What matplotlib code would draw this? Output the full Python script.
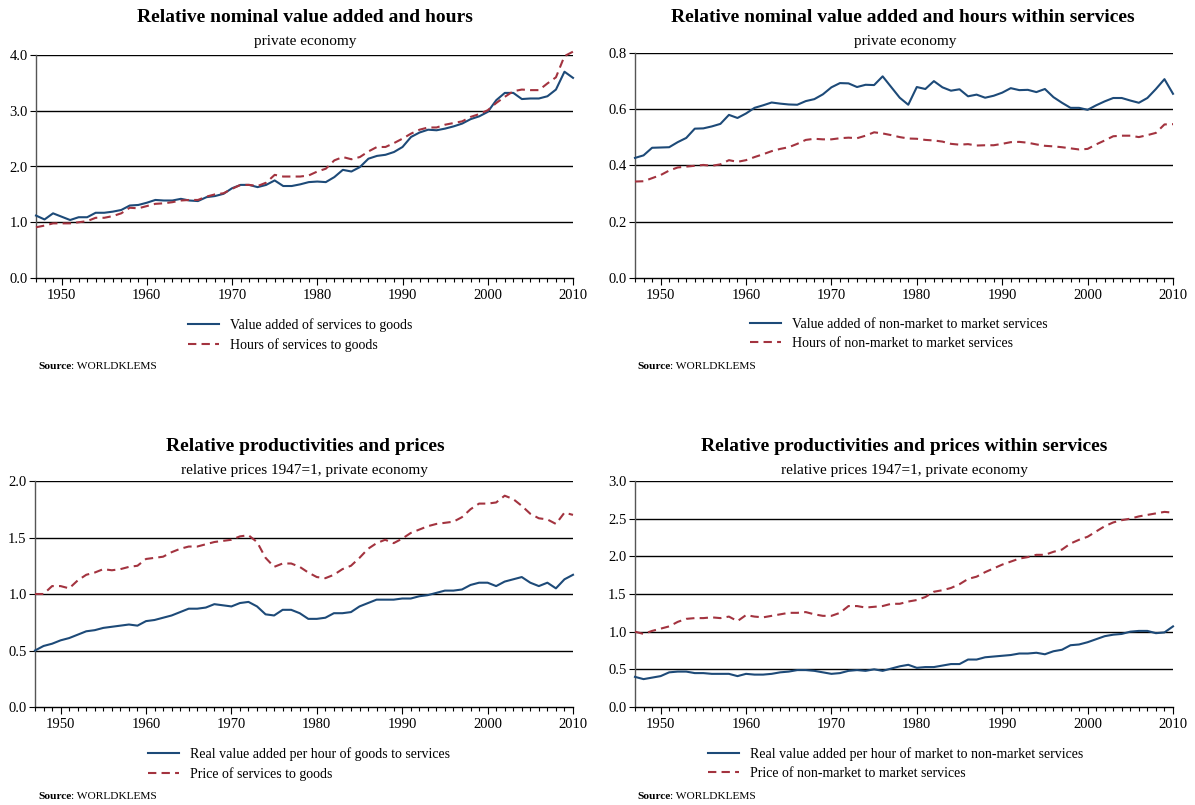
import matplotlib
matplotlib.use("Agg")
import matplotlib.pyplot as plt
from matplotlib.ticker import MultipleLocator, FormatStrFormatter

plt.rcParams['font.family'] = ['Liberation Serif', 'DejaVu Serif']

years = list(range(1947, 2011))

# Panel 1: services to goods, private economy
va_serv_goods = [1.12, 1.05, 1.16, 1.10, 1.04, 1.09, 1.09, 1.17, 1.17, 1.19,
                 1.22, 1.30, 1.31, 1.35, 1.40, 1.39, 1.39, 1.42, 1.39, 1.38,
                 1.45, 1.47, 1.51, 1.61, 1.67, 1.67, 1.63, 1.67, 1.75, 1.65,
                 1.65, 1.68, 1.72, 1.73, 1.72, 1.81, 1.94, 1.91, 1.99, 2.14,
                 2.19, 2.21, 2.26, 2.35, 2.53, 2.61, 2.66, 2.65, 2.68, 2.72,
                 2.77, 2.85, 2.90, 2.98, 3.19, 3.32, 3.32, 3.21, 3.22, 3.22,
                 3.26, 3.38, 3.70, 3.59]
hours_serv_goods = [0.91, 0.94, 0.98, 0.98, 0.98, 1.00, 1.02, 1.08, 1.08, 1.11,
                    1.16, 1.26, 1.25, 1.29, 1.33, 1.34, 1.36, 1.39, 1.40, 1.40,
                    1.46, 1.50, 1.52, 1.60, 1.67, 1.67, 1.65, 1.71, 1.85, 1.82,
                    1.82, 1.82, 1.84, 1.91, 1.96, 2.11, 2.17, 2.13, 2.17, 2.27,
                    2.35, 2.35, 2.42, 2.50, 2.59, 2.66, 2.70, 2.70, 2.75, 2.78,
                    2.81, 2.89, 2.94, 3.01, 3.14, 3.25, 3.35, 3.38, 3.37, 3.37,
                    3.49, 3.60, 3.98, 4.06]

# Panel 2: non-market to market services
va_nonmkt_mkt = [0.427, 0.436, 0.463, 0.464, 0.465, 0.483, 0.498, 0.531, 0.532, 0.539,
                 0.548, 0.580, 0.569, 0.585, 0.605, 0.614, 0.624, 0.620, 0.617, 0.616,
                 0.629, 0.636, 0.653, 0.678, 0.693, 0.692, 0.679, 0.687, 0.686, 0.717,
                 0.679, 0.641, 0.616, 0.679, 0.672, 0.700, 0.678, 0.666, 0.671, 0.646,
                 0.652, 0.641, 0.648, 0.659, 0.675, 0.668, 0.669, 0.661, 0.672, 0.643,
                 0.623, 0.605, 0.605, 0.598, 0.614, 0.628, 0.640, 0.640, 0.631, 0.623,
                 0.640, 0.672, 0.707, 0.655]
hours_nonmkt_mkt = [0.343, 0.344, 0.355, 0.366, 0.382, 0.393, 0.396, 0.399, 0.402, 0.399,
                    0.404, 0.419, 0.413, 0.419, 0.430, 0.440, 0.451, 0.459, 0.465, 0.477,
                    0.491, 0.495, 0.493, 0.493, 0.497, 0.499, 0.497, 0.506, 0.518, 0.514,
                    0.508, 0.501, 0.496, 0.495, 0.491, 0.489, 0.485, 0.477, 0.474, 0.476,
                    0.471, 0.472, 0.472, 0.477, 0.483, 0.484, 0.481, 0.475, 0.470, 0.468,
                    0.465, 0.461, 0.457, 0.459, 0.475, 0.489, 0.504, 0.506, 0.506, 0.501,
                    0.508, 0.516, 0.546, 0.547]

# Panel 3: productivities and prices, goods vs services
prod_goods_serv = [0.50, 0.54, 0.56, 0.59, 0.61, 0.64, 0.67, 0.68, 0.70, 0.71,
                   0.72, 0.73, 0.72, 0.76, 0.77, 0.79, 0.81, 0.84, 0.87, 0.87,
                   0.88, 0.91, 0.90, 0.89, 0.92, 0.93, 0.89, 0.82, 0.81, 0.86,
                   0.86, 0.83, 0.78, 0.78, 0.79, 0.83, 0.83, 0.84, 0.89, 0.92,
                   0.95, 0.95, 0.95, 0.96, 0.96, 0.98, 0.99, 1.01, 1.03, 1.03,
                   1.04, 1.08, 1.10, 1.10, 1.07, 1.11, 1.13, 1.15, 1.10, 1.07,
                   1.10, 1.05, 1.13, 1.17]
price_serv_goods = [1.00, 1.00, 1.07, 1.07, 1.05, 1.12, 1.17, 1.19, 1.22, 1.21,
                    1.22, 1.24, 1.25, 1.31, 1.32, 1.33, 1.37, 1.40, 1.42, 1.42,
                    1.44, 1.46, 1.47, 1.48, 1.51, 1.52, 1.46, 1.32, 1.24, 1.27,
                    1.27, 1.24, 1.19, 1.15, 1.14, 1.17, 1.22, 1.25, 1.32, 1.40,
                    1.45, 1.48, 1.45, 1.49, 1.54, 1.57, 1.60, 1.62, 1.63, 1.64,
                    1.68, 1.75, 1.80, 1.80, 1.81, 1.87, 1.84, 1.78, 1.71, 1.67,
                    1.66, 1.62, 1.72, 1.70]

# Panel 4: within services
prod_mkt_nonmkt = [0.40, 0.37, 0.39, 0.41, 0.46, 0.47, 0.47, 0.45, 0.45, 0.44,
                   0.44, 0.44, 0.41, 0.44, 0.43, 0.43, 0.44, 0.46, 0.47, 0.49,
                   0.49, 0.48, 0.46, 0.44, 0.45, 0.48, 0.49, 0.48, 0.50, 0.48,
                   0.51, 0.54, 0.56, 0.52, 0.53, 0.53, 0.55, 0.57, 0.57, 0.63,
                   0.63, 0.66, 0.67, 0.68, 0.69, 0.71, 0.71, 0.72, 0.70, 0.74,
                   0.76, 0.82, 0.83, 0.86, 0.90, 0.94, 0.96, 0.97, 1.00, 1.01,
                   1.01, 0.98, 0.99, 1.07]
price_nonmkt_mkt = [1.00, 0.97, 1.01, 1.04, 1.07, 1.13, 1.17, 1.18, 1.18, 1.19,
                    1.18, 1.20, 1.14, 1.22, 1.20, 1.19, 1.21, 1.23, 1.25, 1.25,
                    1.26, 1.23, 1.21, 1.21, 1.25, 1.34, 1.34, 1.32, 1.33, 1.34,
                    1.37, 1.37, 1.40, 1.42, 1.46, 1.53, 1.55, 1.58, 1.63, 1.70,
                    1.73, 1.79, 1.84, 1.89, 1.93, 1.97, 1.99, 2.02, 2.02, 2.06,
                    2.09, 2.17, 2.22, 2.26, 2.33, 2.40, 2.45, 2.48, 2.50, 2.53,
                    2.55, 2.57, 2.59, 2.58]

titles = ["Relative nominal value added and hours",
          "Relative nominal value added and hours within services",
          "Relative productivities and prices",
          "Relative productivities and prices within services"]
subtitles = ["private economy", "private economy",
             "relative prices 1947=1, private economy",
             "relative prices 1947=1, private economy"]
labels = [("Value added of services to goods", "Hours of services to goods"),
          ("Value added of non-market to market services", "Hours of non-market to market services"),
          ("Real value added per hour of goods to services", "Price of services to goods"),
          ("Real value added per hour of market to non-market services", "Price of non-market to market services")]
series = [(va_serv_goods, hours_serv_goods),
          (va_nonmkt_mkt, hours_nonmkt_mkt),
          (prod_goods_serv, price_serv_goods),
          (prod_mkt_nonmkt, price_nonmkt_mkt)]
yticks = [[0.0, 1.0, 2.0, 3.0, 4.0],
          [0.0, 0.2, 0.4, 0.6, 0.8],
          [0.0, 0.5, 1.0, 1.5, 2.0],
          [0.0, 0.5, 1.0, 1.5, 2.0, 2.5, 3.0]]

W, H = 1195, 805
BLUE = '#1d4a78'
RED = '#a3333f'

fig = plt.figure(figsize=(W / 100, H / 100), dpi=100)

# pixel layout: (left, right, top, bottom) of axes
boxes = [(36, 573, 55, 278), (635, 1173, 53, 278),
         (35, 573, 481, 707), (635, 1173, 481, 707)]
title_y = [17, 17, 446, 446]
title_x = [305, 903, 305, 904]
sub_y = [42, 42, 470, 470]
sub_x = [305, 905, 304, 904]
leg_x = [188, 750, 148, 708]
leg_y = [318, 318, 747, 747]
src_x = [38, 637, 38, 637]
src_y = [366, 366, 796, 796]

for i in range(4):
    l, r, t, b = boxes[i]
    ax = fig.add_axes([l / W, 1 - b / H, (r - l) / W, (b - t) / H])
    yv1, yv2 = series[i]
    h1, = ax.plot(years, yv1, color=BLUE, lw=1.5, label=labels[i][0], zorder=3, clip_on=False)
    h2, = ax.plot(years, yv2, color=RED, lw=1.5, ls=(0, (4, 2.5)), label=labels[i][1],
                  zorder=3, clip_on=False)
    ax.set_xlim(1947, 2010)
    ax.set_ylim(yticks[i][0], yticks[i][-1])
    ax.set_yticks(yticks[i])
    ax.yaxis.set_major_formatter(FormatStrFormatter('%.1f'))
    ax.set_xticks(list(range(1950, 2011, 10)))
    ax.xaxis.set_minor_locator(MultipleLocator(1))
    for y in yticks[i][1:]:
        ax.axhline(y, color='black', lw=1.0, zorder=1)
    for s in ['top', 'right']:
        ax.spines[s].set_visible(False)
    for s in ['left', 'bottom']:
        ax.spines[s].set_linewidth(1.0)
        ax.spines[s].set_color('#555555' if s == 'left' else 'black')
    ax.tick_params(axis='y', direction='out', length=4, width=0.8, labelsize=10.5, pad=2)
    ax.tick_params(axis='x', which='major', direction='out', length=5, width=0.8, labelsize=10.5, pad=3)
    ax.tick_params(axis='x', which='minor', direction='out', length=3, width=0.8)
    fig.text(title_x[i] / W, 1 - title_y[i] / H, titles[i], ha='center', va='center',
             fontsize=14, fontweight='bold')
    fig.text(sub_x[i] / W, 1 - sub_y[i] / H, subtitles[i], ha='center', va='center', fontsize=11)
    fig.legend(handles=[h1, h2], loc='upper left',
               bbox_to_anchor=(leg_x[i] / W, 1 - leg_y[i] / H),
               frameon=False, fontsize=10, handlelength=2.2, handletextpad=0.85,
               labelspacing=0.45, borderpad=0, borderaxespad=0)
    t1 = fig.text(src_x[i] / W, 1 - src_y[i] / H, "Source", fontsize=8.2, fontweight='bold',
                  ha='left', va='center')
    fig.canvas.draw()
    bb = t1.get_window_extent()
    fig.text(bb.x1 / W, 1 - src_y[i] / H, ": WORLDKLEMS", fontsize=8.2, ha='left', va='center')

fig.savefig("out.png", dpi=100)
